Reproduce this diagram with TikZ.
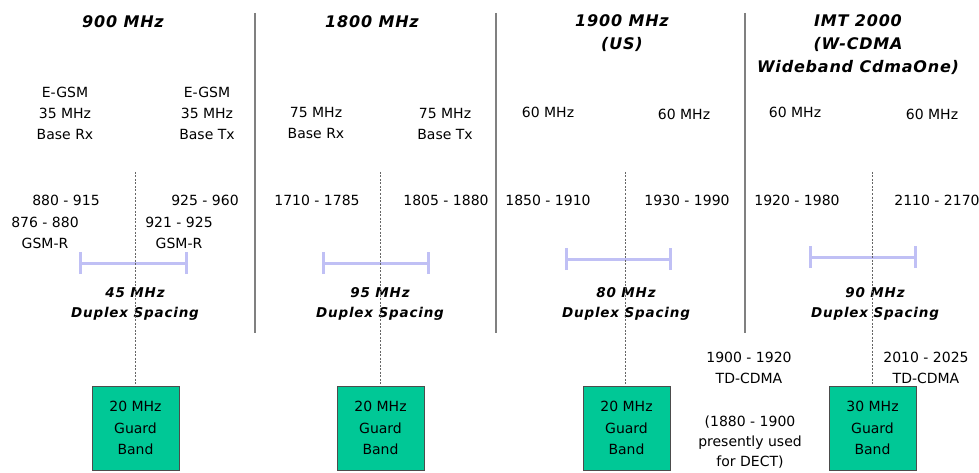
\documentclass[tikz,border=0pt]{standalone}
\usepackage{fontspec}
\setmainfont{DejaVu Sans}
\newfontfamily\ttlfont[LetterSpace=5]{DejaVu Sans}
\newfontfamily\dupfont[LetterSpace=6]{DejaVu Sans}
\definecolor{gfill}{RGB}{0,200,150}
\definecolor{brkc}{RGB}{192,192,245}
\begin{document}
\begin{tikzpicture}[x=1pt,y=-1pt,
  lbl/.style={font=\fontsize{14}{21}\selectfont, align=center, inner sep=0pt},
  ttl/.style={font=\ttlfont\bfseries\itshape\fontsize{16}{23}\selectfont, align=center, inner sep=0pt},
  dup/.style={font=\dupfont\bfseries\itshape\fontsize{13.5}{20}\selectfont, align=center, inner sep=0pt},
  gbox/.style={draw=black!70, line width=1pt, fill=gfill, minimum width=87pt, minimum height=84pt,
               inner sep=0pt, align=center, font=\fontsize{14}{21.5}\selectfont},
  sepline/.style={draw=black!50, line width=1.8pt},
  dline/.style={draw=black!60, line width=1pt, dash pattern=on 2pt off 1.5pt},
  brk/.style={draw=brkc, line width=3pt}]
\useasboundingbox (0,0) rectangle (979,473);

% separators
\coordinate (s1t) at (255,13); \coordinate (s1b) at (255,333);
\coordinate (s2t) at (496,13); \coordinate (s2b) at (496,333);
\coordinate (s3t) at (745,13); \coordinate (s3b) at (745,333);
\draw[sepline] (s1t) -- (s1b);
\draw[sepline] (s2t) -- (s2b);
\draw[sepline] (s3t) -- (s3b);

% titles
\node[ttl] (t1) at (123,22) {900 MHz};
\node[ttl] (t2) at (372,22) {1800 MHz};
\node[ttl] (t3) at (622,33.5) {1900 MHz\\(US)};
\node[ttl] (t4) at (858,45) {IMT 2000\\(W-CDMA\\Wideband CdmaOne)};

% section 1
\node[lbl] (a1) at (65,113.5) {E-GSM\\35 MHz\\Base Rx};
\node[lbl] (a2) at (207,113.5) {E-GSM\\35 MHz\\Base Tx};
\node[lbl] (a3) at (66,200) {880 - 915};
\node[lbl] (a4) at (205,200) {925 - 960};
\node[lbl] (a5) at (45,232.5) {876 - 880\\GSM-R};
\node[lbl] (a6) at (179,232.5) {921 - 925\\GSM-R};

% section 2
\node[lbl] (b1) at (316,123) {75 MHz\\Base Rx};
\node[lbl] (b2) at (445,124) {75 MHz\\Base Tx};
\node[lbl] (b3) at (317,200) {1710 - 1785};
\node[lbl] (b4) at (446,200) {1805 - 1880};

% section 3
\node[lbl] (c1) at (548,112) {60 MHz};
\node[lbl] (c2) at (684,114) {60 MHz};
\node[lbl] (c3) at (548,200) {1850 - 1910};
\node[lbl] (c4) at (687,200) {1930 - 1990};

% section 4
\node[lbl] (e1) at (795,112) {60 MHz};
\node[lbl] (e2) at (932,114) {60 MHz};
\node[lbl] (e3) at (797,200) {1920 - 1980};
\node[lbl] (e4) at (937,200) {2110 - 2170};

% brackets
\coordinate (k1l) at (80,263);  \coordinate (k1r) at (186,263);
\coordinate (k2l) at (323,263); \coordinate (k2r) at (428,263);
\coordinate (k3l) at (566,259); \coordinate (k3r) at (670,259);
\coordinate (k4l) at (810,257); \coordinate (k4r) at (915,257);
\foreach \k in {1,2,3,4}{
  \draw[brk] (k\k l) -- (k\k r);
  \draw[brk] ([yshift=-11pt]k\k l) -- ([yshift=11pt]k\k l);
  \draw[brk] ([yshift=-11pt]k\k r) -- ([yshift=11pt]k\k r);
}

% duplex spacing
\node[dup] (p1) at (135,304) {45 MHz\\Duplex Spacing};
\node[dup] (p2) at (380,304) {95 MHz\\Duplex Spacing};
\node[dup] (p3) at (626,304) {80 MHz\\Duplex Spacing};
\node[dup] (p4) at (875,304) {90 MHz\\Duplex Spacing};

% TD-CDMA notes
\node[lbl] (n1) at (749,367.5) {1900 - 1920\\TD-CDMA};
\node[lbl, font=\fontsize{14}{20}\selectfont] (n2) at (750,442) {(1880 - 1900\\presently used\\for DECT)};
\node[lbl] (n3) at (926,367.5) {2010 - 2025\\TD-CDMA};

% guard band boxes
\node[gbox] (g1) at (135.5,428) {20 MHz\\Guard\\Band};
\node[gbox] (g2) at (380.5,428) {20 MHz\\Guard\\Band};
\node[gbox] (g3) at (626.5,428) {20 MHz\\Guard\\Band};
\node[gbox] (g4) at (872.5,428) {30 MHz\\Guard\\Band};

% dashed centre lines
\coordinate (d1) at (135,172);
\coordinate (d2) at (380,172);
\coordinate (d3) at (625,172);
\coordinate (d4) at (872,172);
\draw[dline] (d1) -- (d1 |- g1.north);
\draw[dline] (d2) -- (d2 |- g2.north);
\draw[dline] (d3) -- (d3 |- g3.north);
\draw[dline] (d4) -- (d4 |- g4.north);
\end{tikzpicture}
\end{document}
